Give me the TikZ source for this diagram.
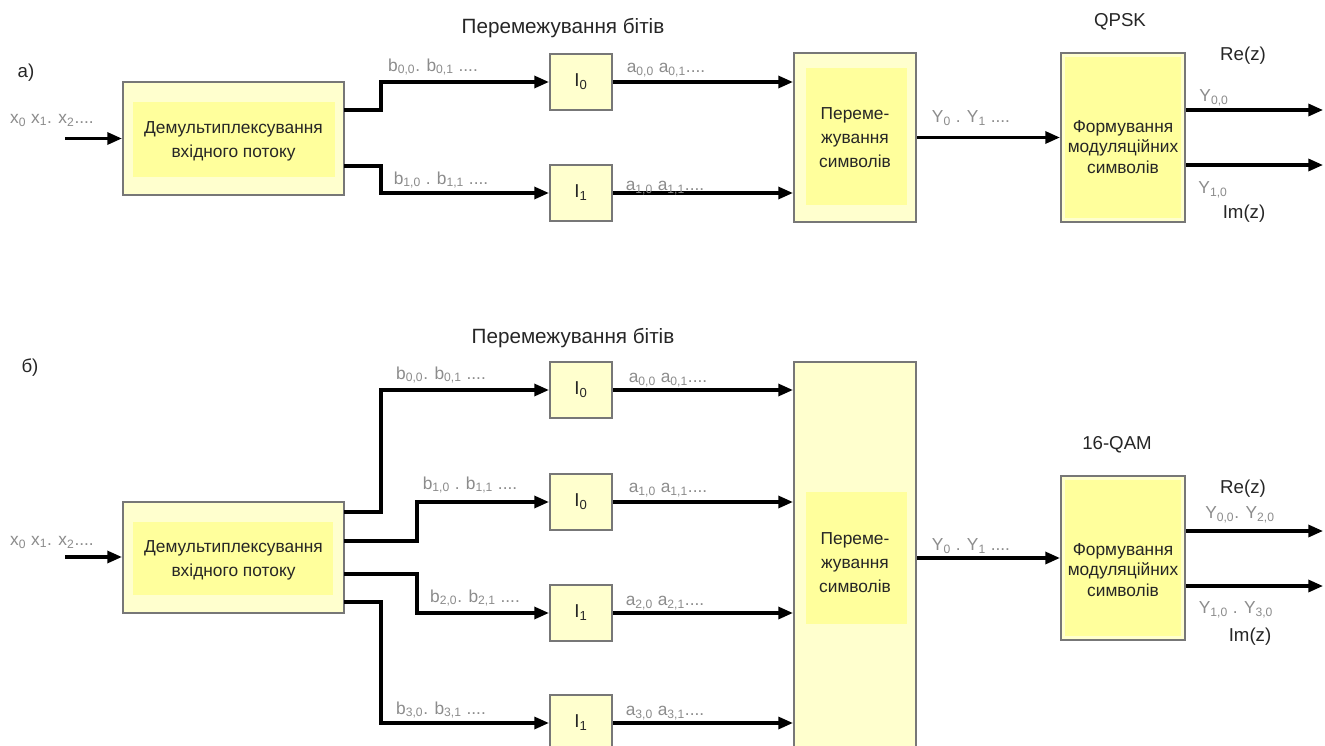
\documentclass[tikz,border=0pt]{standalone}
\usepackage{fontspec}
\setmainfont{Liberation Sans}
\usetikzlibrary{arrows.meta}
\definecolor{boxfill}{HTML}{FFFFCE}
\definecolor{innerfill}{HTML}{FFFF9C}
\definecolor{boxline}{HTML}{777777}
\definecolor{lbl}{HTML}{8C8C8C}
\begin{document}
\begin{tikzpicture}[x=0.75pt,y=-0.75pt,
  blk/.style={draw=boxline,line width=1.6pt,fill=boxfill,inner sep=0pt},
  inbox/.style={fill=innerfill,inner sep=0pt,draw=none},
  txt/.style={font=\fontsize{13}{18}\selectfont,align=center,text=black!85,inner sep=0pt},
  mtxt/.style={font=\fontsize{13}{15.5}\selectfont,align=center,text=black!85,inner sep=0pt},
  ttl/.style={font=\fontsize{14}{17}\selectfont,text=black!85,inner sep=0pt},
  big/.style={font=\fontsize{15.5}{18}\selectfont,text=black!85,inner sep=0pt},
  lab/.style={font=\fontsize{13}{15}\selectfont,text=lbl,inner sep=0pt},
  arr/.style={line width=2.4pt,-{Triangle[length=11pt,width=9pt]}}]
\clip (0,0) rectangle (1325,746);
\fill[white] (0,0) rectangle (1325,746);

% ---------------- panel a ----------------
\node[ttl] (pa) at (26,73) {а)};
\node[big] (tA) at (563,28) {Перемежування бітів};
\node[ttl] (qpsk) at (1120,22) {QPSK};

\node[blk,minimum width=165.75pt,minimum height=84.75pt] (demA) at (233.5,138.5) {};
\node[inbox,minimum width=151.5pt,minimum height=56.25pt] (demAi) at (234,139.5) {};
\node[txt] (demAt) at (233.5,141) {Демультиплексування\\вхідного потоку};

\node[blk,minimum width=46.5pt,minimum height=42pt] (I0a) at (581,82) {};
\node[ttl] (I0at) at (581,82) {I\textsubscript{0}};
\node[blk,minimum width=46.5pt,minimum height=42pt] (I1a) at (581,193) {};
\node[ttl] (I1at) at (581,193) {I\textsubscript{1}};

\node[blk,minimum width=91.5pt,minimum height=126.75pt] (symA) at (855,137.5) {};
\node[inbox,minimum width=75.75pt,minimum height=102.75pt] (symAi) at (856.5,136.5) {};
\node[txt] (symAt) at (855,137.5) {Переме-\\жування\\символів};

\node[blk,minimum width=93pt,minimum height=126.75pt] (modA) at (1123,137.5) {};
\node[inbox,minimum width=87pt,minimum height=120.75pt] (modAi) at (1123,137.5) {};
\node[mtxt] (modAt) at (1123,147) {Формування\\модуляційних\\символів};

\coordinate (inA) at (65,138.5);
\draw[arr] (inA) -- (demA.west);
\node[lab] (xA) at (52,120) {x\textsubscript{0} x\textsubscript{1}. x\textsubscript{2}....};

\coordinate (dA0) at (344,110);
\coordinate (dA1) at (344,166);
\draw[arr] (dA0) -- ++(37,0) |- (I0a.west);
\draw[arr] (dA1) -- ++(37,0) |- (I1a.west);
\draw[arr] (I0a.east) -- (I0a.east -| symA.west);
\draw[arr] (I1a.east) -- (I1a.east -| symA.west);
\draw[arr] (symA.east) -- (modA.west);
\coordinate (oA0) at (1323,110);
\coordinate (oA1) at (1323,165);
\draw[arr] (modA.east |- oA0) -- (oA0);
\draw[arr] (modA.east |- oA1) -- (oA1);

\node[lab] (bA0) at (433,67) {b\textsubscript{0,0}. b\textsubscript{0,1} ....};
\node[lab] (bA1) at (441,180) {b\textsubscript{1,0} . b\textsubscript{1,1} ....};
\node[lab] (aA0) at (666,70) {a\textsubscript{0,0} a\textsubscript{0,1}....};
\node[lab] (aA1) at (665,188) {a\textsubscript{1,0} a\textsubscript{1,1}....};
\node[lab] (yA) at (971,118) {Y\textsubscript{0} . Y\textsubscript{1} ....};
\node[ttl] (reA) at (1243,56) {Re(z)};
\node[lab] (yA0) at (1214,98) {Y\textsubscript{0,0}};
\node[lab] (yA1) at (1213,190) {Y\textsubscript{1,0}};
\node[ttl] (imA) at (1244,214) {Im(z)};

% ---------------- panel b ----------------
\node[ttl] (pb) at (30,368) {б)};
\node[big] (tB) at (573,338) {Перемежування бітів};
\node[ttl] (qam) at (1117,445) {16-QAM};

\node[blk,minimum width=165.75pt,minimum height=83.25pt] (demB) at (233.5,557.5) {};
\node[inbox,minimum width=150pt,minimum height=54.75pt] (demBi) at (233,558.5) {};
\node[txt] (demBt) at (233.5,560) {Демультиплексування\\вхідного потоку};

\node[blk,minimum width=46.5pt,minimum height=42pt] (I0b) at (581,390) {};
\node[ttl] (I0bt) at (581,390) {I\textsubscript{0}};
\node[blk,minimum width=46.5pt,minimum height=42pt] (I1b) at (581,502) {};
\node[ttl] (I1bt) at (581,502) {I\textsubscript{0}};
\node[blk,minimum width=46.5pt,minimum height=42pt] (I2b) at (581,613) {};
\node[ttl] (I2bt) at (581,613) {I\textsubscript{1}};
\node[blk,minimum width=46.5pt,minimum height=42pt] (I3b) at (581,723) {};
\node[ttl] (I3bt) at (581,723) {I\textsubscript{1}};

\node[blk,minimum width=91.5pt,minimum height=313.5pt] (symB) at (855,571) {};
\node[inbox,minimum width=75.75pt,minimum height=99pt] (symBi) at (856.5,558) {};
\node[txt] (symBt) at (855,563) {Переме-\\жування\\символів};

\node[blk,minimum width=93pt,minimum height=123pt] (modB) at (1123,558) {};
\node[inbox,minimum width=87pt,minimum height=117pt] (modBi) at (1123,558) {};
\node[mtxt] (modBt) at (1123,570) {Формування\\модуляційних\\символів};

\coordinate (inB) at (65,557);
\draw[arr] (inB) -- (inB -| demB.west);
\node[lab] (xB) at (52,542) {x\textsubscript{0} x\textsubscript{1}. x\textsubscript{2}....};

\coordinate (dB0) at (344,512);
\coordinate (dB1) at (344,541);
\coordinate (dB2) at (344,574);
\coordinate (dB3) at (344,602);
\draw[arr] (dB0) -- ++(37,0) |- (I0b.west);
\draw[arr] (dB1) -- ++(73,0) |- (I1b.west);
\draw[arr] (dB2) -- ++(73,0) |- (I2b.west);
\draw[arr] (dB3) -- ++(37,0) |- (I3b.west);
\draw[arr] (I0b.east) -- (I0b.east -| symB.west);
\draw[arr] (I1b.east) -- (I1b.east -| symB.west);
\draw[arr] (I2b.east) -- (I2b.east -| symB.west);
\draw[arr] (I3b.east) -- (I3b.east -| symB.west);
\draw[arr] (symB.east |- modB.west) -- (modB.west);
\coordinate (oB0) at (1323,531);
\coordinate (oB1) at (1323,586);
\draw[arr] (modB.east |- oB0) -- (oB0);
\draw[arr] (modB.east |- oB1) -- (oB1);

\node[lab] (bB0) at (441,375) {b\textsubscript{0,0}. b\textsubscript{0,1} ....};
\node[lab] (bB1) at (470,485) {b\textsubscript{1,0} . b\textsubscript{1,1} ....};
\node[lab] (bB2) at (475,598) {b\textsubscript{2,0}. b\textsubscript{2,1} ....};
\node[lab] (bB3) at (441,710) {b\textsubscript{3,0}. b\textsubscript{3,1} ....};
\node[lab] (aB0) at (668,380) {a\textsubscript{0,0} a\textsubscript{0,1}....};
\node[lab] (aB1) at (668,490) {a\textsubscript{1,0} a\textsubscript{1,1}....};
\node[lab] (aB2) at (665,603) {a\textsubscript{2,0} a\textsubscript{2,1}....};
\node[lab] (aB3) at (665,713) {a\textsubscript{3,0} a\textsubscript{3,1}....};
\node[lab] (yB) at (971,546) {Y\textsubscript{0} . Y\textsubscript{1} ....};
\node[ttl] (reB) at (1243,489) {Re(z)};
\node[lab] (yB0) at (1240,515) {Y\textsubscript{0,0}. Y\textsubscript{2,0}};
\node[lab] (yB1) at (1236,610) {Y\textsubscript{1,0} . Y\textsubscript{3,0}};
\node[ttl] (imB) at (1250,637) {Im(z)};
\end{tikzpicture}
\end{document}
